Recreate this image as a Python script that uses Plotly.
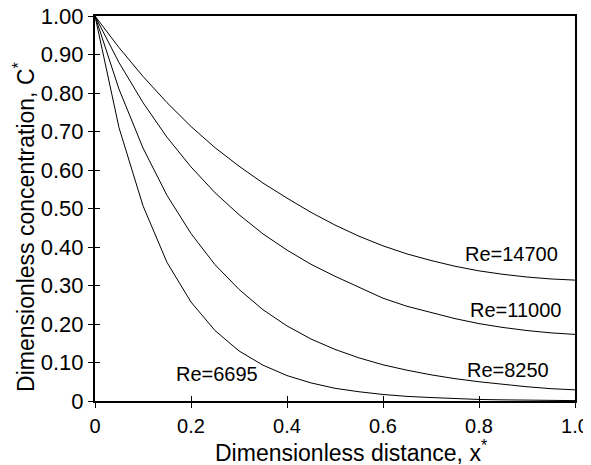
import plotly.graph_objects as go

x_vals = [0, 0.05, 0.1, 0.15, 0.2, 0.25, 0.3, 0.35, 0.4, 0.45, 0.5,
          0.55, 0.6, 0.65, 0.7, 0.75, 0.8, 0.85, 0.9, 0.95, 1.0]

c_re14700 = [1.0, 0.918, 0.843, 0.775, 0.713, 0.658, 0.610, 0.566, 0.527, 0.490, 0.457,
             0.428, 0.403, 0.382, 0.365, 0.350, 0.338, 0.329, 0.322, 0.317, 0.314]
c_re11000 = [1.0, 0.879, 0.775, 0.685, 0.608, 0.541, 0.484, 0.434, 0.392, 0.355, 0.324,
             0.295, 0.267, 0.246, 0.229, 0.214, 0.201, 0.191, 0.183, 0.177, 0.173]
c_re8250 = [1.0, 0.810, 0.657, 0.534, 0.435, 0.354, 0.290, 0.237, 0.195, 0.161, 0.134,
            0.112, 0.094, 0.080, 0.068, 0.058, 0.050, 0.043, 0.037, 0.032, 0.029]
c_re6695 = [1.0, 0.710, 0.507, 0.360, 0.257, 0.183, 0.130, 0.093, 0.066, 0.047, 0.033,
            0.024, 0.017, 0.012, 0.009, 0.006, 0.004, 0.003, 0.002, 0.0015, 0.001]

series = [("Re=14700", c_re14700), ("Re=11000", c_re11000),
          ("Re=8250", c_re8250), ("Re=6695", c_re6695)]

label_x = [0.868, 0.876, 0.86, 0.254]
label_y = [0.381, 0.237, 0.080, 0.069]

x_tickvals = [0, 0.2, 0.4, 0.6, 0.8, 1.0]
x_ticktext = ["0", "0.2", "0.4", "0.6", "0.8", "1.0"]
y_tickvals = [0, 0.1, 0.2, 0.3, 0.4, 0.5, 0.6, 0.7, 0.8, 0.9, 1.0]
y_ticktext = ["0", "0.10", "0.20", "0.30", "0.40", "0.50", "0.60", "0.70", "0.80", "0.90", "1.00"]

x_title = "Dimensionless distance, x<sup>*</sup>"
y_title = "Dimensionless concentration, C<sup>*</sup>"

FONT = "Liberation Sans, Arial, sans-serif"

fig = go.Figure()
for name, ys in series:
    fig.add_trace(go.Scatter(x=x_vals, y=ys, mode="lines", name=name,
                             line=dict(color="black", width=1), showlegend=False,
                             hoverinfo="skip"))
# companion axes carrying the inward half of the crossing tick marks
fig.add_trace(go.Scatter(x=[None], y=[None], xaxis="x2", yaxis="y2",
                         showlegend=False, hoverinfo="skip"))

for (name, _), lx, ly in zip(series, label_x, label_y):
    fig.add_annotation(x=lx, y=ly, text=name, showarrow=False,
                       font=dict(family=FONT, size=20, color="black"))

fig.add_annotation(xref="paper", yref="paper", x=0.535, y=-0.13, text=x_title,
                   showarrow=False, xanchor="center", yanchor="middle",
                   font=dict(family=FONT, size=23, color="black"))
fig.add_annotation(xref="paper", yref="paper", x=-0.148, y=0.452, text=y_title,
                   showarrow=False, xanchor="center", yanchor="middle", textangle=-90,
                   font=dict(family=FONT, size=23, color="black"))

axis_common = dict(showgrid=False, zeroline=False, linecolor="black", linewidth=2,
                   tickcolor="black", tickwidth=1, automargin=False,
                   ticklabeloverflow="allow")

# the page body adds an 8px offset; the figure is sized so the plot lands where the reference has it
fig.update_layout(
    width=583, height=457,
    margin=dict(l=87, r=16, t=8, b=64),
    paper_bgcolor="white", plot_bgcolor="white",
    font=dict(family=FONT, size=20, color="black"),
    xaxis=dict(range=[0, 1.0], tickvals=x_tickvals, ticktext=x_ticktext,
               ticks="outside", ticklen=5, showline=True, mirror=True,
               ticklabelstandoff=1, tickfont=dict(size=20), **axis_common),
    yaxis=dict(range=[0, 1.0], tickvals=y_tickvals, ticktext=y_ticktext,
               ticks="outside", ticklen=5, showline=True, mirror=True,
               tickfont=dict(size=22), **axis_common),
    xaxis2=dict(range=[0, 1.0], tickvals=x_tickvals, overlaying="x", side="bottom",
                anchor="y2", ticks="inside", ticklen=5, showticklabels=False,
                showline=False, showgrid=False, zeroline=False, tickcolor="black", tickwidth=1),
    yaxis2=dict(range=[0, 1.0], tickvals=y_tickvals, overlaying="y", side="left",
                anchor="x2", ticks="inside", ticklen=5, showticklabels=False,
                showline=False, showgrid=False, zeroline=False, tickcolor="black", tickwidth=1),
)

fig.write_html("out.html")
